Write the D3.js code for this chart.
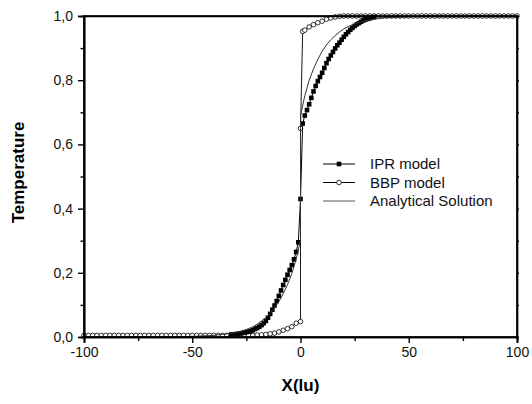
<!DOCTYPE html>
<html><head><meta charset="utf-8">
<script src="https://cdn.jsdelivr.net/npm/d3@7"></script>
<style>body{margin:0;background:#fff}svg{display:block}text{font-family:"Liberation Sans",Arial,sans-serif}</style>
</head><body><svg id="c" width="532" height="404"></svg>
<script>
// ---- data ----
const xTicks = [-100, -50, 0, 50, 100];
const xTickLabels = ["-100", "-50", "0", "50", "100"];
const xMinor = [-75, -25, 25, 75];
const yTicks = [0, 0.2, 0.4, 0.6, 0.8, 1.0];
const yTickLabels = ["0,0", "0,2", "0,4", "0,6", "0,8", "1,0"];
const yMinor = [0.1, 0.3, 0.5, 0.7, 0.9];
const seriesNames = ["IPR model", "BBP model", "Analytical Solution"];

const iprX = [-32,-31,-30,-29,-28,-27,-26,-25,-24,-23,-22,-21,-20,-19,-18,-17,-16,-15,-14,-13,-12,-11,-10,-9,-8,-7,-6,-5,-4,-3,-2,-1,0,
  1,2,3,4,5,6,7,8,9,10,11,12,13,14,15,16,17,18,19,20,21,22,23,24,25,26,27,28,29,30,31,32,33,34];
const iprY = [0.008,0.008,0.009,0.010,0.011,0.012,0.014,0.015,0.017,0.019,0.021,0.025,0.028,0.032,0.037,0.043,0.050,0.060,0.072,0.085,0.098,0.112,0.128,0.145,0.162,0.178,0.194,0.209,0.224,0.242,0.265,0.295,0.430,
  0.665,0.690,0.707,0.725,0.745,0.765,0.782,0.797,0.810,0.823,0.838,0.853,0.866,0.877,0.888,0.899,0.909,0.917,0.926,0.935,0.943,0.950,0.957,0.963,0.969,0.974,0.978,0.982,0.986,0.989,0.991,0.993,0.995,0.997];

const bbpX = [-100,-98,-96,-94,-92,-90,-88,-86,-84,-82,-80,-78,-76,-74,-72,-70,-68,-66,-64,-62,-60,-58,-56,-54,-52,-50,-48,-46,-44,-42,-40,-38,-36,-34,-32,-30,-28,-26,
  -24,-22,-20,-18,-16,-14,-12,-10,-8,-6,-4,-2,0,0,1,2,4,6,8,10,12,14,16,18,
  20,22,24,26,28,30,32,34,36,38,40,42,44,46,48,50,52,54,56,58,60,62,64,66,68,70,72,74,76,78,80,82,84,86,88,90,92,94,96,98,100];
const bbpY = [0.005,0.005,0.005,0.005,0.005,0.005,0.005,0.005,0.005,0.005,0.005,0.005,0.005,0.005,0.005,0.005,0.005,0.005,0.005,0.005,0.005,0.005,0.005,0.005,0.005,0.005,0.005,0.005,0.005,0.005,0.005,0.005,0.005,0.005,0.005,0.005,0.005,0.005,
  0.005,0.005,0.006,0.007,0.008,0.010,0.012,0.016,0.021,0.026,0.032,0.043,0.048,0.650,0.952,0.956,0.966,0.973,0.979,0.984,0.990,0.994,0.997,0.999,
  1,1,1,1,1,1,1,1,1,1,1,1,1,1,1,1,1,1,1,1,1,1,1,1,1,1,1,1,1,1,1,1,1,1,1,1,1,1,1,1,1];

const anaX = [-100,-60,-50,-40,-35,-30,-28,-26,-24,-22,-20,-18,-16,-14,-12,-10,-8,-6,-4,-2,0,
  0,2,4,6,8,10,12,14,16,18,20,22,24,26,28,30,35,40,50,60,100];
const anaY = [0,0,0.002,0.005,0.009,0.014,0.017,0.021,0.026,0.032,0.040,0.050,0.061,0.074,0.090,0.110,0.135,0.163,0.198,0.243,0.300,
  0.690,0.752,0.800,0.835,0.865,0.890,0.910,0.926,0.939,0.950,0.960,0.967,0.973,0.978,0.982,0.985,0.991,0.995,0.998,1,1];

// ---- chart ----
const svg = d3.select("#c");
const L = 84, R = 517, T = 16, B = 337;
const x = d3.scaleLinear().domain([-100, 100]).range([L, R]);
const y = d3.scaleLinear().domain([0, 1]).range([B, T]);
const ink = "#000";

const zip = (a, b) => a.map((v, i) => [v, b[i]]);
const ipr = zip(iprX, iprY), bbp = zip(bbpX, bbpY), ana = zip(anaX, anaY);
const line = d3.line().x(d => x(d[0])).y(d => y(d[1]));

// BBP
svg.append("path").attr("d", line(bbp)).attr("fill", "none").attr("stroke", ink).attr("stroke-width", 0.9);
svg.append("g").selectAll("circle").data(bbp).join("circle")
  .attr("cx", d => x(d[0])).attr("cy", d => y(d[1])).attr("r", 2.3)
  .attr("fill", "#fff").attr("stroke", ink).attr("stroke-width", 0.8);
// IPR
svg.append("path").attr("d", line(ipr)).attr("fill", "none").attr("stroke", ink).attr("stroke-width", 1);
svg.append("g").selectAll("rect").data(ipr).join("rect")
  .attr("x", d => x(d[0]) - 2.3).attr("y", d => y(d[1]) - 2.3).attr("width", 4.6).attr("height", 4.6)
  .attr("fill", ink);
// Analytical
svg.append("path").attr("d", line(ana)).attr("fill", "none").attr("stroke", "#333").attr("stroke-width", 1);

// axes
const ax = svg.append("g");
ax.append("g").attr("transform", `translate(0,${B})`)
  .call(d3.axisBottom(x).tickValues(xTicks).tickFormat((d, i) => xTickLabels[i]).tickSize(6).tickPadding(4));
ax.append("g").attr("transform", `translate(0,${B})`)
  .call(d3.axisBottom(x).tickValues(xMinor).tickFormat("").tickSize(4));
ax.append("g").attr("transform", `translate(${L},0)`)
  .call(d3.axisLeft(y).tickValues(yTicks).tickFormat((d, i) => yTickLabels[i]).tickSize(6).tickPadding(5));
ax.append("g").attr("transform", `translate(${L},0)`)
  .call(d3.axisLeft(y).tickValues(yMinor).tickFormat("").tickSize(3.5));
ax.append("g").attr("transform", `translate(${R},0)`)
  .call(d3.axisRight(y).tickValues(yTicks.concat(yMinor)).tickFormat("").tickSize(2));
ax.append("g").attr("transform", `translate(0,${T})`)
  .call(d3.axisTop(x).tickValues([]).tickSizeOuter(0));
ax.selectAll(".domain").attr("stroke", ink).attr("stroke-width", 1.7);
ax.selectAll(".tick line").attr("stroke", ink).attr("stroke-width", 1.4);
ax.selectAll(".tick text").attr("font-size", 14).attr("fill", "#111")
  .attr("font-family", '"Liberation Sans", Arial, sans-serif');
// frame
svg.append("rect").attr("x", L).attr("y", T).attr("width", R - L).attr("height", B - T)
  .attr("fill", "none").attr("stroke", ink).attr("stroke-width", 1.7);

// titles
svg.append("text").attr("x", (L + R) / 2).attr("y", 391).attr("text-anchor", "middle")
  .attr("font-size", 17).attr("font-weight", "bold").text("X(lu)");
svg.append("text").attr("transform", `translate(24,${(T + B) / 2 - 4}) rotate(-90)`).attr("text-anchor", "middle")
  .attr("font-size", 17).attr("font-weight", "bold").text("Temperature");

// legend
const lg = svg.append("g");
const rows = [164, 182.5, 201];
rows.forEach((ry, i) => {
  lg.append("line").attr("x1", 323).attr("x2", 355).attr("y1", ry).attr("y2", ry)
    .attr("stroke", i === 2 ? "#555" : ink).attr("stroke-width", 1);
  if (i === 0) lg.append("rect").attr("x", 339 - 2.3).attr("y", ry - 2.3).attr("width", 4.6).attr("height", 4.6).attr("fill", ink);
  if (i === 1) lg.append("circle").attr("cx", 339).attr("cy", ry).attr("r", 2.3).attr("fill", "#fff").attr("stroke", ink).attr("stroke-width", 0.8);
  lg.append("text").attr("x", 370).attr("y", ry + 5).attr("font-size", 15).attr("fill", "#111").text(seriesNames[i]);
});
</script></body></html>
